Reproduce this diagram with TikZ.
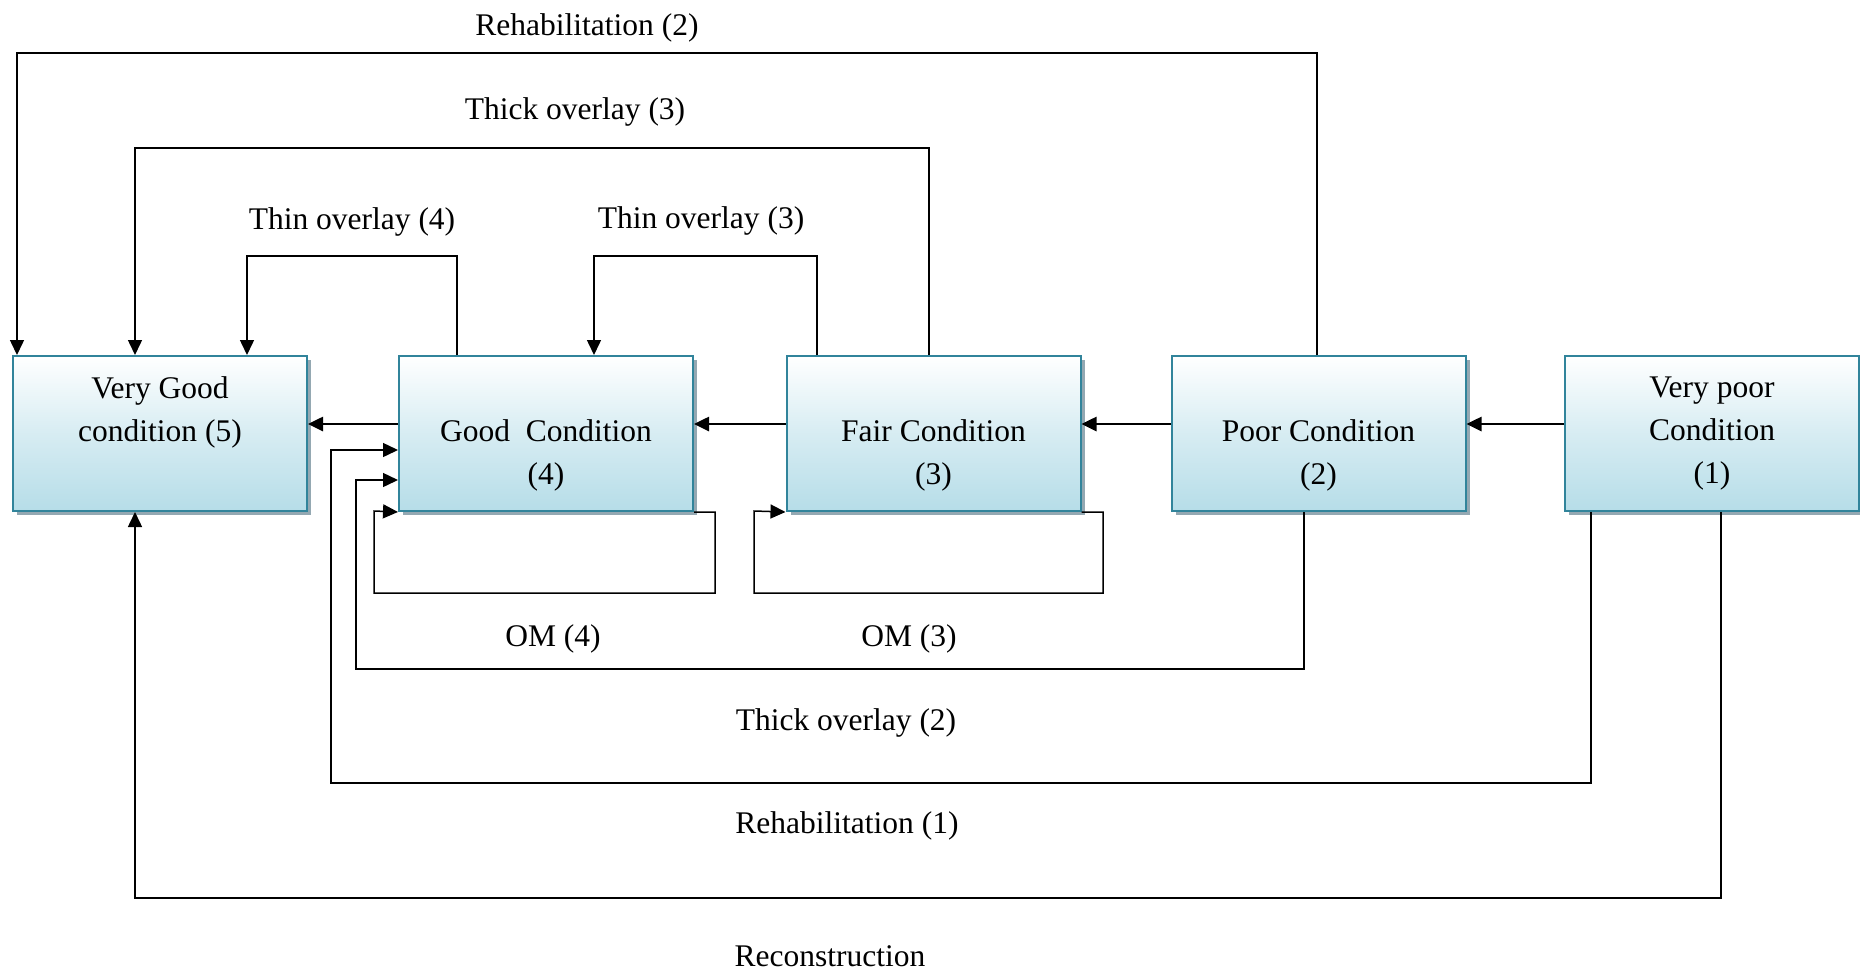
\documentclass[tikz,border=0pt]{standalone}
\usepackage{fontspec}
\setmainfont{Liberation Serif}
\usetikzlibrary{arrows.meta,shadows}
\definecolor{boxedge}{RGB}{49,132,155}
\definecolor{boxlow}{RGB}{182,221,232}
\definecolor{boxshade}{RGB}{148,168,178}
\tikzset{
  state/.style={draw=boxedge, line width=1pt, rectangle, inner sep=0pt,
    minimum width=147pt, minimum height=77.5pt, align=center,
    top color=white, bottom color=boxlow, middle color=white!45!boxlow,
    drop shadow={shadow xshift=2pt, shadow yshift=-2pt, fill=boxshade, opacity=1},
    font=\fontsize{15.75}{21.5}\selectfont},
  link/.style={line width=0.75pt, -{Triangle[length=7.5pt,width=7pt]}},
  mainlink/.style={line width=1.3pt, -{Triangle[length=7.5pt,width=7pt]}},
  tag/.style={font=\fontsize{15.75}{19}\selectfont, inner sep=0pt}
}
\newcommand{\blankline}{\phantom{(0)}}
\begin{document}
\begin{tikzpicture}[x=0.5pt,y=-0.5pt]
\useasboundingbox (0,0) rectangle (1860,970);

% condition states
\node[state] (vg)   at (160,433.5)  {Very Good\\condition (5)\\\blankline};
\node[state] (good) at (546,433.5)  {\blankline\\Good~ Condition\\(4)};
\node[state] (fair) at (933.5,433.5) {\blankline\\Fair Condition\\(3)};
\node[state] (poor) at (1318.5,433.5) {\blankline\\Poor Condition\\(2)};
\node[state] (vp)   at (1712,433.5) {Very poor\\Condition\\(1)};

% deterioration steps
\draw[mainlink] (vp.west |- 0,424) -- (poor.east |- 0,424);
\draw[mainlink] (poor.west |- 0,424) -- (fair.east |- 0,424);
\draw[mainlink] (fair.west |- 0,424) -- (good.east |- 0,424);
\draw[mainlink] (good.west |- 0,424) -- (vg.east |- 0,424);

% treatments above the states
\draw[link] (1317,0 |- poor.north) |- (17,53) -- (17,0 |- vg.north);
\draw[link] (929,0 |- fair.north) |- (135,148) -- (135,0 |- vg.north);
\draw[link] (457,0 |- good.north) |- (247,256) -- (247,0 |- vg.north);
\draw[link] (817,0 |- fair.north) |- (594,256) -- (594,0 |- good.north);

% treatments below the states
\draw[link] (1721,0 |- vp.south) |- (135,898) -- (135,0 |- vg.south);
\draw[link] (1591,0 |- vp.south) |- (331,783) |- (good.west |- 0,450);
\draw[link] (1304,0 |- poor.south) |- (356,669) |- (good.west |- 0,480);

% maintenance loops
\draw[link] (good.south east) -| (715,593) -| (374,511) -- (good.south west);
\draw[link] (fair.south east) -| (1103,593) -| (754,511) -- (fair.south west);

% labels
\node[tag] (l1) at (587,27.5)  {Rehabilitation (2)};
\node[tag] (l2) at (575,111.5) {Thick overlay (3)};
\node[tag] (l3) at (352,221.5) {Thin overlay (4)};
\node[tag] (l4) at (701,220.5) {Thin overlay (3)};
\node[tag] (l5) at (553,638.5) {OM (4)};
\node[tag] (l6) at (909,638.5) {OM (3)};
\node[tag] (l7) at (846,722.5) {Thick overlay (2)};
\node[tag] (l8) at (847,825.5) {Rehabilitation (1)};
\node[tag] (l9) at (830,956.5) {Reconstruction};
\end{tikzpicture}
\end{document}
